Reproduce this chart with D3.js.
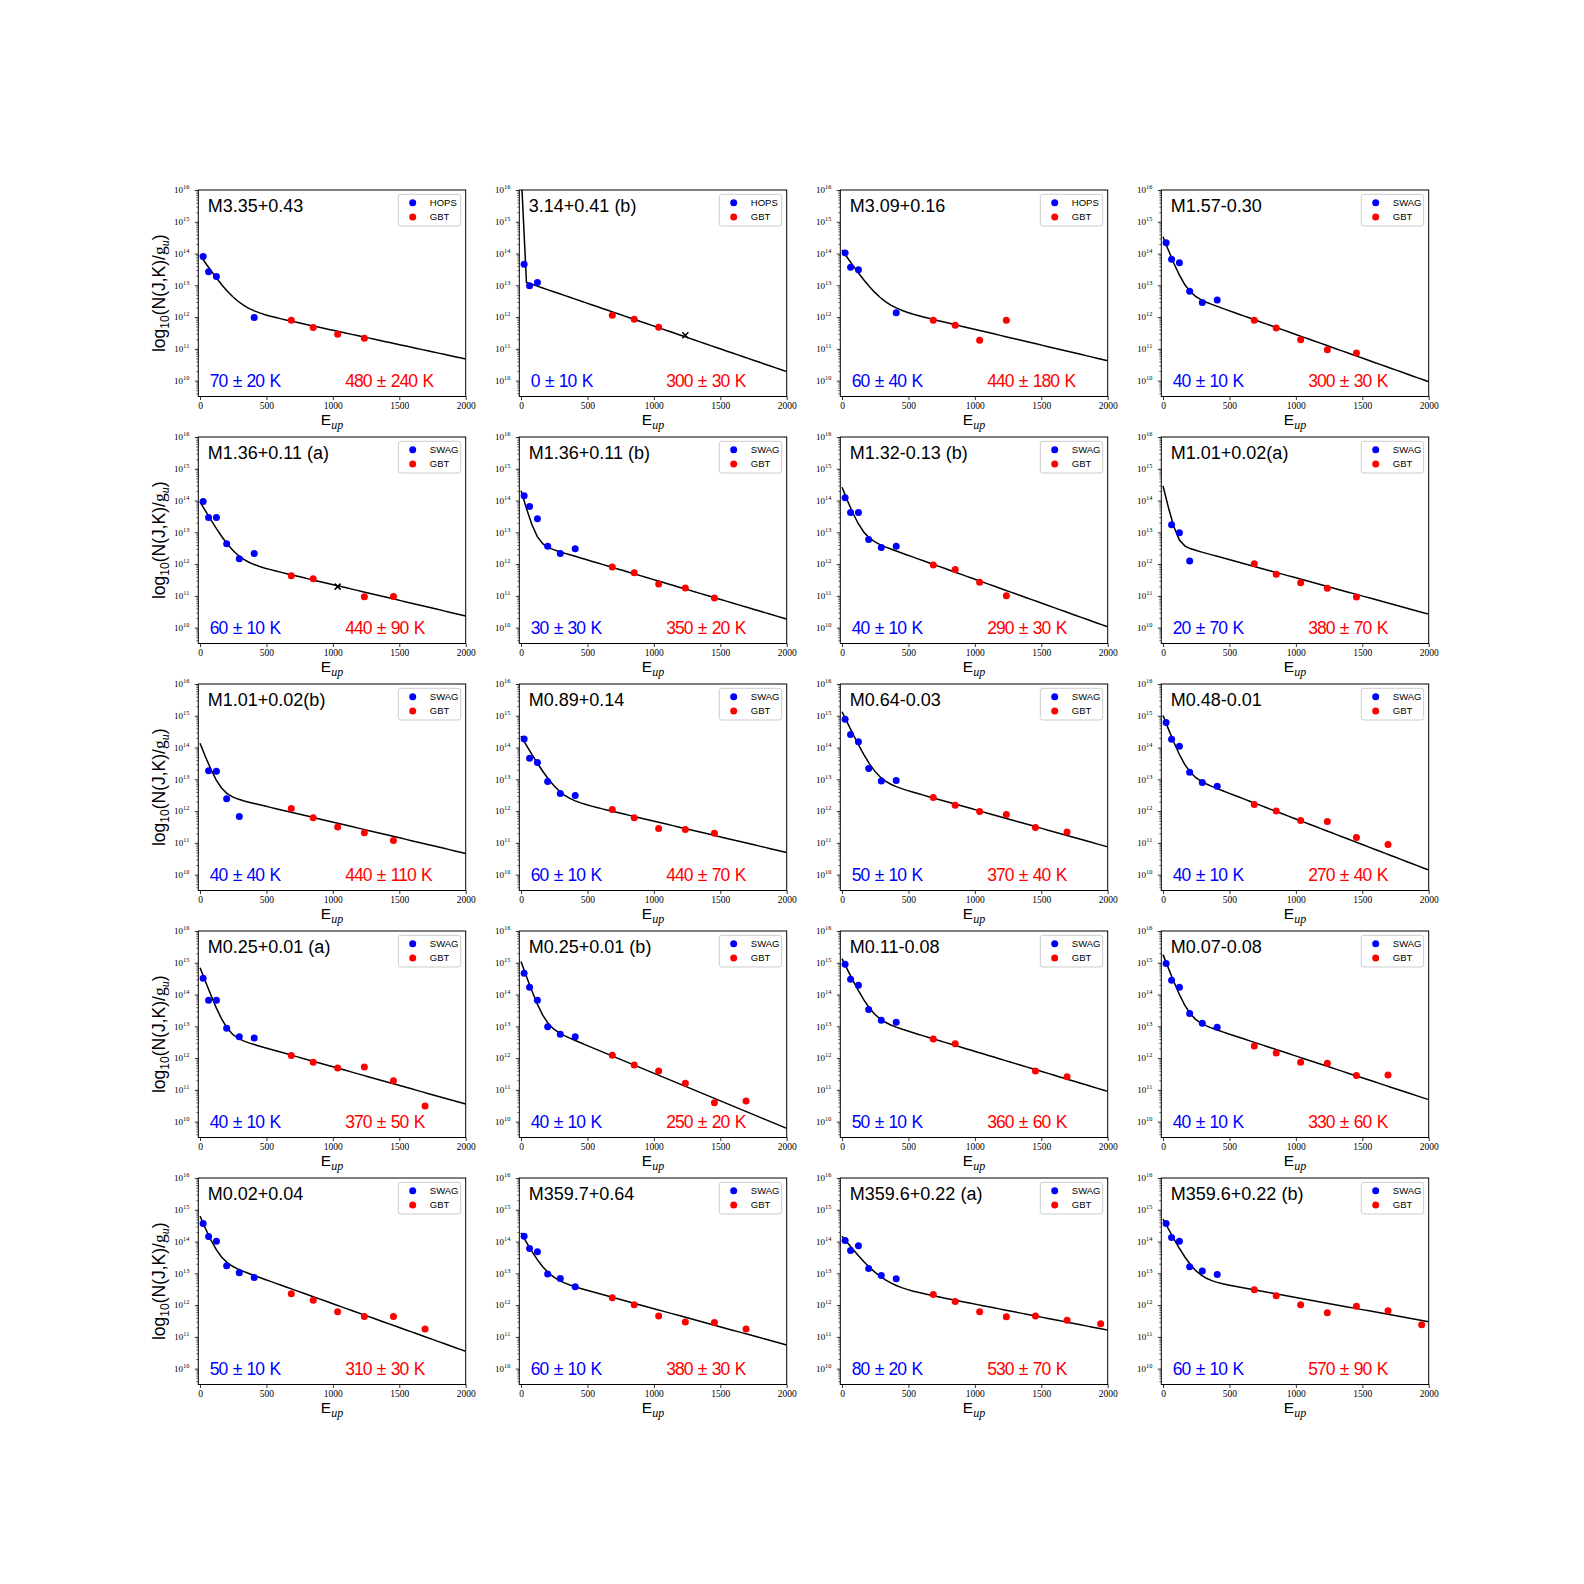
<!DOCTYPE html>
<html><head><meta charset="utf-8">
<script src="https://cdn.jsdelivr.net/npm/d3@7"></script>
<style>body{margin:0;background:#fff} svg{display:block}</style>
</head><body><svg id="chart" width="1584" height="1584"></svg>
<script>
// NH3 (J,J) upper-level energies (K)
const energies = [23.3, 64.4, 123.5, 200.5, 295.6, 407.9, 687, 852, 1036, 1237, 1456, 1694, 1947];
const coldEnergies = energies.slice(0, 6);
const warmEnergies = energies.slice(6);

const panelNames = ["M3.35+0.43", "3.14+0.41 (b)", "M3.09+0.16", "M1.57-0.30",
  "M1.36+0.11 (a)", "M1.36+0.11 (b)", "M1.32-0.13 (b)", "M1.01+0.02(a)",
  "M1.01+0.02(b)", "M0.89+0.14", "M0.64-0.03", "M0.48-0.01",
  "M0.25+0.01 (a)", "M0.25+0.01 (b)", "M0.11-0.08", "M0.07-0.08",
  "M0.02+0.04", "M359.7+0.64", "M359.6+0.22 (a)", "M359.6+0.22 (b)"];
const surveyNames = ["HOPS", "HOPS", "HOPS", "SWAG", "SWAG", "SWAG", "SWAG", "SWAG", "SWAG", "SWAG",
  "SWAG", "SWAG", "SWAG", "SWAG", "SWAG", "SWAG", "SWAG", "SWAG", "SWAG", "SWAG"];
const coldLabels = ["70 ± 20 K", "0 ± 10 K", "60 ± 40 K", "40 ± 10 K", "60 ± 10 K", "30 ± 30 K", "40 ± 10 K", "20 ± 70 K",
  "40 ± 40 K", "60 ± 10 K", "50 ± 10 K", "40 ± 10 K", "40 ± 10 K", "40 ± 10 K", "50 ± 10 K", "40 ± 10 K",
  "50 ± 10 K", "60 ± 10 K", "80 ± 20 K", "60 ± 10 K"];
const warmLabels = ["480 ± 240 K", "300 ± 30 K", "440 ± 180 K", "300 ± 30 K", "440 ± 90 K", "350 ± 20 K", "290 ± 30 K", "380 ± 70 K",
  "440 ± 110 K", "440 ± 70 K", "370 ± 40 K", "270 ± 40 K", "370 ± 50 K", "250 ± 20 K", "360 ± 60 K", "330 ± 60 K",
  "310 ± 30 K", "380 ± 30 K", "530 ± 70 K", "570 ± 90 K"];

// log10 N(J,K)/g_u of the low-J survey (blue), at coldEnergies
const coldPoints = [
  [13.91, 13.43, 13.28, null, null, 11.99],
  [13.66, 12.99, 13.09, null, null, null],
  [14.02, 13.57, 13.49, null, null, 12.14],
  [14.34, 13.82, 13.71, 12.81, 12.46, 12.54],
  [13.97, 13.47, 13.47, 12.64, 12.17, 12.33],
  [14.15, 13.81, 13.43, 12.56, 12.33, 12.48],
  [14.09, 13.62, 13.62, 12.77, 12.52, 12.56],
  [null, 13.24, 12.99, 12.10, null, null],
  [null, 13.27, 13.25, 12.39, 11.83, null],
  [14.27, 13.66, 13.53, 12.93, 12.55, 12.49],
  [14.89, 14.41, 14.18, 13.34, 12.95, 12.96],
  [14.79, 14.26, 14.04, 13.22, 12.90, 12.78],
  [14.51, 13.82, 13.82, 12.94, 12.67, 12.63],
  [14.67, 14.23, 13.82, 12.99, 12.75, 12.67],
  [14.95, 14.48, 14.29, 13.53, 13.19, 13.13],
  [14.98, 14.45, 14.23, 13.40, 13.10, 12.97],
  [14.57, 14.16, 14.01, 13.24, 13.02, 12.87],
  [14.17, 13.78, 13.68, 12.98, 12.84, 12.58],
  [14.03, 13.72, 13.87, 13.15, 12.93, 12.83],
  [14.57, 14.13, 14.01, 13.21, 13.07, 12.96]
];
// log10 N(J,K)/g_u of GBT (red), at warmEnergies
const warmPoints = [
  [11.90, 11.67, 11.46, 11.33, null, null, null],
  [12.06, 11.93, 11.68, null, null, null, null],
  [11.90, 11.74, 11.27, 11.90, null, null, null],
  [11.90, 11.66, 11.29, 10.97, 10.87, null, null],
  [11.63, 11.54, null, 10.97, 10.98, null, null],
  [11.91, 11.73, 11.37, 11.25, 10.93, null, null],
  [11.97, 11.83, 11.43, 11.00, null, null, null],
  [12.01, 11.68, 11.41, 11.24, 10.96, null, null],
  [12.08, 11.79, 11.50, 11.32, 11.07, null, null],
  [12.05, 11.79, 11.45, 11.42, 11.30, null, null],
  [12.43, 12.18, 11.99, 11.89, 11.48, 11.34, null],
  [12.21, 12.00, 11.70, 11.67, 11.17, 10.95, null],
  [12.08, 11.87, 11.69, 11.72, 11.29, 10.49, null],
  [12.09, 11.78, 11.59, 11.21, 10.59, 10.65, null],
  [12.60, 12.45, null, null, 11.59, 11.41, null],
  [12.38, 12.16, 11.87, 11.84, 11.45, 11.47, null],
  [12.36, 12.15, 11.79, 11.64, 11.64, 11.25, null],
  [12.23, 12.01, 11.66, 11.47, 11.45, 11.25, null],
  [12.33, 12.11, 11.79, 11.63, 11.66, 11.52, 11.41],
  [12.48, 12.29, 12.01, 11.76, 11.96, 11.82, 11.38]
];
// excluded points (black x): [panel index, energy, log10 N]
const excludedPoints = [[1, 1237, 11.43], [4, 1036, 11.29]];

// two-temperature fit: log10 N0 and T of each component
const fitColdLogN0 = [13.93, 16.65, 14.10, 14.52, 13.95, 14.30, 14.40, 14.45, 14.12, 14.35, 15.12, 15.00, 14.84, 15.03, 15.12, 15.25, 14.78, 14.25, 14.15, 14.70];
const fitColdT     = [70, 3, 70, 40, 60, 30, 40, 25, 40, 60, 50, 40, 40, 37, 50, 40, 42, 55, 80, 55];
const fitWarmLogN0 = [12.49, 13.15, 12.60, 12.94, 12.34, 12.75, 13.02, 12.71, 12.64, 12.67, 13.22, 13.36, 12.90, 13.26, 13.47, 13.44, 13.54, 13.03, 12.85, 13.00];
const fitWarmT     = [480, 303, 440, 292, 440, 350, 290, 380, 440, 440, 370, 270, 370, 250, 345, 316, 290, 380, 530, 570];

const xTicks = [0, 500, 1000, 1500, 2000];
const yDecades = [10, 11, 12, 13, 14, 15, 16];

// ---------------- drawing ----------------
const svg = d3.select('#chart');
const W = 267.4, H = 206.5;
const X0 = 198.3, DX = 321, Y0 = 190, DY = 247;
const sans = "'Liberation Sans', Arial, sans-serif";
const serif = "'Liberation Serif', 'Times New Roman', serif";
const LN10 = Math.log(10);
const fitE = d3.range(50).map(i => i * 2000 / 49);

const minorTicks = [];
for (let k = 9; k < 16; k++) for (let m = 2; m <= 9; m++) {
  const v = m * Math.pow(10, k);
  if (v > Math.pow(10, 9.5)) minorTicks.push(v);
}

panelNames.forEach((name, i) => {
  const col = i % 4, row = Math.floor(i / 4);
  const left = X0 + col * DX, top = Y0 + row * DY;
  const x = d3.scaleLinear().domain([-13, 2000]).range([0, W]);
  const y = d3.scaleLog().domain([Math.pow(10, 9.5), 1e16]).range([H, 0]);
  const g = svg.append('g').attr('transform', `translate(${left},${top})`);

  g.append('clipPath').attr('id', 'clip' + i)
    .append('rect').attr('width', W).attr('height', H);

  // x axis
  const xa = g.append('g').attr('transform', `translate(0,${H})`)
    .call(d3.axisBottom(x).tickValues(xTicks).tickSize(3.5).tickPadding(2.5).tickFormat(d3.format('d')));
  xa.select('.domain').remove();
  xa.selectAll('text').attr('font-family', serif).attr('font-size', 9.5).attr('fill', '#000');
  xa.selectAll('line').attr('stroke', '#000').attr('stroke-width', 0.8);

  // y axis major/minor ticks
  const ya = g.append('g').call(d3.axisLeft(y).tickValues(yDecades.map(d => Math.pow(10, d))).tickSize(3.5).tickFormat(() => ''));
  ya.select('.domain').remove();
  ya.selectAll('line').attr('stroke', '#000').attr('stroke-width', 0.8);
  const ym = g.append('g').call(d3.axisLeft(y).tickValues(minorTicks).tickSize(2).tickFormat(() => ''));
  ym.select('.domain').remove();
  ym.selectAll('line').attr('stroke', '#000').attr('stroke-width', 0.6);

  const lab = g.selectAll('.ylab').data(yDecades).join('text')
    .attr('class', 'ylab')
    .attr('x', -9).attr('y', d => y(Math.pow(10, d)) + 3.2)
    .attr('text-anchor', 'end').attr('font-family', serif).attr('font-size', 9);
  lab.append('tspan').text('10');
  lab.append('tspan').attr('dy', -3.8).attr('font-size', 6.3).text(d => d);

  // fit curve
  const line = d3.line()
    .x(e => x(e))
    .y(e => y(Math.pow(10, fitColdLogN0[i] - e / (fitColdT[i] * LN10)) + Math.pow(10, fitWarmLogN0[i] - e / (fitWarmT[i] * LN10))));
  g.append('path').datum(fitE).attr('d', line)
    .attr('clip-path', `url(#clip${i})`)
    .attr('fill', 'none').attr('stroke', '#000').attr('stroke-width', 1.5);

  // points
  const cold = coldEnergies.map((e, k) => ({ e, v: coldPoints[i][k] })).filter(d => d.v !== null);
  const warm = warmEnergies.map((e, k) => ({ e, v: warmPoints[i][k] })).filter(d => d.v !== null);
  g.selectAll('.cold').data(cold).join('circle').attr('class', 'cold')
    .attr('cx', d => x(d.e)).attr('cy', d => y(Math.pow(10, d.v))).attr('r', 3.5).attr('fill', '#0000ff');
  g.selectAll('.warm').data(warm).join('circle').attr('class', 'warm')
    .attr('cx', d => x(d.e)).attr('cy', d => y(Math.pow(10, d.v))).attr('r', 3.5).attr('fill', '#ff0000');
  g.selectAll('.excl').data(excludedPoints.filter(p => p[0] === i)).join('path').attr('class', 'excl')
    .attr('transform', d => `translate(${x(d[1])},${y(Math.pow(10, d[2]))})`)
    .attr('d', 'M-3,-3L3,3M-3,3L3,-3').attr('stroke', '#000').attr('stroke-width', 1.5);

  // frame
  g.append('rect').attr('width', W).attr('height', H).attr('fill', 'none').attr('stroke', '#000').attr('stroke-width', 1);

  // title
  g.append('text').attr('x', 9.5).attr('y', 22).attr('font-family', sans).attr('font-size', 18)
    .attr('fill', '#000').text(name);

  // temperatures
  g.append('text').attr('x', 11.5).attr('y', H - 9.3).attr('font-family', sans).attr('font-size', 17.5)
    .attr('letter-spacing', -1.0).attr('word-spacing', 1.5).attr('fill', '#0000ff').text(coldLabels[i]);
  g.append('text').attr('x', 147).attr('y', H - 9.3).attr('font-family', sans).attr('font-size', 17.5)
    .attr('letter-spacing', -1.0).attr('word-spacing', 1.5).attr('fill', '#ff0000').text(warmLabels[i]);

  // legend
  const lg = g.append('g').attr('transform', 'translate(200,4.3)');
  lg.append('rect').attr('width', 62.4).attr('height', 31.7).attr('rx', 2.5)
    .attr('fill', '#fff').attr('fill-opacity', 0.8).attr('stroke', '#cccccc').attr('stroke-width', 1);
  const entries = [{ t: surveyNames[i], c: '#0000ff', yy: 8.4 }, { t: 'GBT', c: '#ff0000', yy: 22.7 }];
  entries.forEach(en => {
    lg.append('circle').attr('cx', 14.4).attr('cy', en.yy).attr('r', 3.5).attr('fill', en.c);
    lg.append('text').attr('x', 31.5).attr('y', en.yy + 3.3).attr('font-family', sans).attr('font-size', 9.5)
      .attr('fill', '#000').text(en.t);
  });

  // x label
  const xl = g.append('text').attr('x', W / 2).attr('y', H + 28.5).attr('text-anchor', 'middle')
    .attr('font-family', sans).attr('font-size', 15.5).attr('fill', '#000');
  xl.append('tspan').text('E');
  xl.append('tspan').attr('dy', 3.5).attr('font-family', serif).attr('font-style', 'italic').attr('font-size', 12).text('up');

  // y label (first column only)
  if (col === 0) {
    const yl = g.append('text').attr('transform', `translate(${-33},${H / 2}) rotate(-90)`)
      .attr('text-anchor', 'middle').attr('font-family', sans).attr('font-size', 17.5).attr('fill', '#000');
    yl.append('tspan').text('log');
    yl.append('tspan').attr('dy', 3.5).attr('font-size', 12).text('10');
    yl.append('tspan').attr('dy', -3.5).text('(N(J,K)/');
    yl.append('tspan').attr('font-family', serif).text('g');
    yl.append('tspan').attr('dy', 3.5).attr('font-family', serif).attr('font-style', 'italic').attr('font-size', 12).text('u');
    yl.append('tspan').attr('dy', -3.5).text(')');
  }
});
</script>
</body></html>
